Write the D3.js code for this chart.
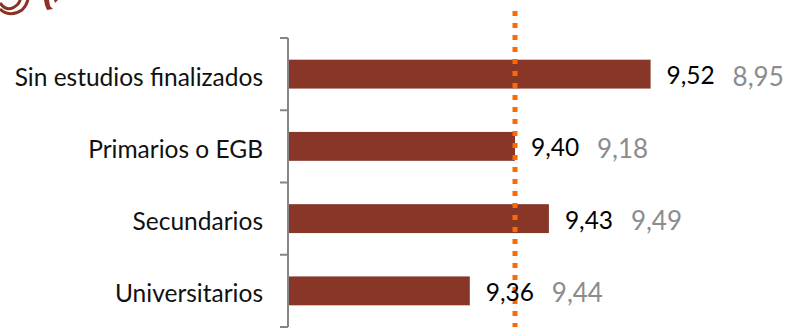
<!DOCTYPE html>
<html><head><meta charset="utf-8">
<script src="https://cdn.jsdelivr.net/npm/d3@7"></script>
<style>html,body{margin:0;padding:0;background:#fff;}svg{display:block;}</style>
</head><body>
<svg id="chart" width="787" height="329"></svg>
<script>
const categories = ["Sin estudios finalizados", "Primarios o EGB", "Secundarios", "Universitarios"];
const values = [9.52, 9.40, 9.43, 9.36];
const previousValues = [8.95, 9.18, 9.49, 9.44];
const referenceValue = 9.40;
const xDomain = [9.2, 9.6];

const fmt = v => d3.format(".2f")(v).replace(".", ",");
const FONT = "Lato, 'Open Sans', sans-serif";
const svg = d3.select("#chart");

const x = d3.scaleLinear().domain(xDomain).range([289, 289 + 0.4 * 1130]);
const y = d3.scaleBand().domain(categories).range([38, 327]).paddingInner(0.6).paddingOuter(0.3);

// logo fragment (top-left)
const logo = svg.append("g").attr("fill", "none").attr("stroke", "#8a3324").attr("stroke-width", 3);
logo.append("path").attr("d", "M0,3 Q8,14 18,4 Q21,0 20,-2");
logo.append("path").attr("d", "M0,9 Q10,18 22,10 Q27,5 28,-1");
svg.append("path").attr("fill", "#8a3324").attr("d", "M44,0 L49,0 L50,6 L53,9 L47,10 L45,5 Z");
svg.append("path").attr("fill", "#8a3324").attr("d", "M54,0 L58,0 L55,3 Z");

// axis with ticks at category boundaries
const axisG = svg.append("g").attr("stroke", "#868686").attr("stroke-width", 2);
axisG.append("line").attr("x1", 288).attr("x2", 288).attr("y1", y.range()[0]).attr("y2", y.range()[1]);
const boundaries = d3.range(categories.length + 1).map(i => y.range()[0] + i * y.step());
axisG.selectAll("line.tick").data(boundaries).join("line").attr("class", "tick")
  .attr("x1", 280).attr("x2", 288).attr("y1", d => d).attr("y2", d => d);

// bars
svg.append("g").selectAll("rect").data(categories).join("rect")
  .attr("x", x(xDomain[0]))
  .attr("y", d => y(d))
  .attr("width", (d, i) => x(values[i]) - x(xDomain[0]))
  .attr("height", y.bandwidth())
  .attr("fill", "#873627");

// category labels
svg.append("g").selectAll("text").data(categories).join("text")
  .attr("x", 263).attr("y", d => y(d) + y.bandwidth() / 2 + 11.5)
  .attr("text-anchor", "end").attr("font-family", FONT).attr("font-size", 24.5).attr("fill", "#111")
  .text(d => d);

// reference dotted line
svg.append("line").attr("x1", x(referenceValue)).attr("x2", x(referenceValue))
  .attr("y1", 11).attr("y2", 327)
  .attr("stroke", "#ff6a00").attr("stroke-width", 5).attr("stroke-dasharray", "5,7");

// value labels
svg.append("g").selectAll("text").data(categories).join("text")
  .attr("x", (d, i) => x(values[i]) + 16).attr("y", d => y(d) + y.bandwidth() / 2 + 10)
  .attr("font-family", FONT).attr("font-size", 24.5).attr("fill", "#000")
  .text((d, i) => fmt(values[i]));

// previous values (gray)
svg.append("g").selectAll("text").data(categories).join("text")
  .attr("x", (d, i) => x(values[i]) + 82).attr("y", d => y(d) + y.bandwidth() / 2 + 11.5)
  .attr("font-family", FONT).attr("font-size", 26).attr("fill", "#8c8c8c")
  .text((d, i) => fmt(previousValues[i]));
</script>
</body></html>
